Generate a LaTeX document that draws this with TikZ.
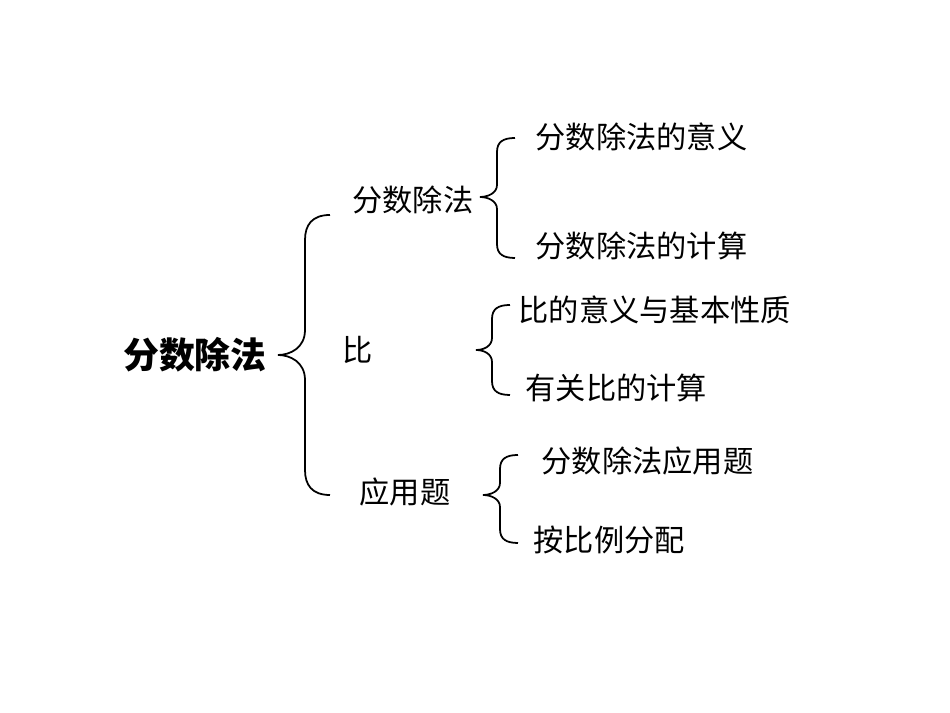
\documentclass[tikz,border=0pt]{standalone}
\usepackage{fontspec}
\newfontfamily\cjk{Noto Sans CJK SC}
\begin{document}
\begin{tikzpicture}[x=0.01cm,y=-0.01cm,
  lvl/.style={font=\cjk\fontsize{8.6pt}{10pt}\selectfont,inner sep=0pt},
  leaf/.style={lvl,anchor=west},
  br/.style={draw,line width=0.5pt}]
\useasboundingbox[fill=white] (0,0) rectangle (950,713);
\node[font=\cjk\bfseries\fontsize{10.2pt}{12pt}\selectfont,inner sep=0pt] (root) at (195,355) {分数除法};
\node[lvl] (a) at (413,200) {分数除法};
\node[lvl] (b) at (358,350) {比};
\node[lvl] (c) at (405,492) {应用题};
\node[leaf] (a1) at (535,137) {分数除法的意义};
\node[leaf] (a2) at (535,246) {分数除法的计算};
\node[leaf] (b1) at (518,310) {比的意义与基本性质};
\node[leaf] (b2) at (525,388) {有关比的计算};
\node[leaf] (c1) at (541,461) {分数除法应用题};
\node[leaf] (c2) at (533,540) {按比例分配};
% big brace
\draw[br] (330,215) .. controls (312,215) and (305,225) .. (305,240) -- (305,330)
  .. controls (305,348) and (290,355) .. (278,355)
  .. controls (290,355) and (305,362) .. (305,380) -- (305,470)
  .. controls (305,485) and (312,495) .. (330,495);
% small braces
\foreach \t/\m/\b/\x/\tip in {138/197/258/497/480, 305/350/395/492/476, 455/495/543/500/483}{
\draw[br] (\x+18,\t) .. controls (\x+6,\t) and (\x,\t+4) .. (\x,\t+14) -- (\x,\m-12)
  .. controls (\x,\m-4) and (\tip+8,\m) .. (\tip,\m)
  .. controls (\tip+8,\m) and (\x,\m+4) .. (\x,\m+12) -- (\x,\b-14)
  .. controls (\x,\b-4) and (\x+6,\b) .. (\x+18,\b);
}
\end{tikzpicture}
\end{document}
